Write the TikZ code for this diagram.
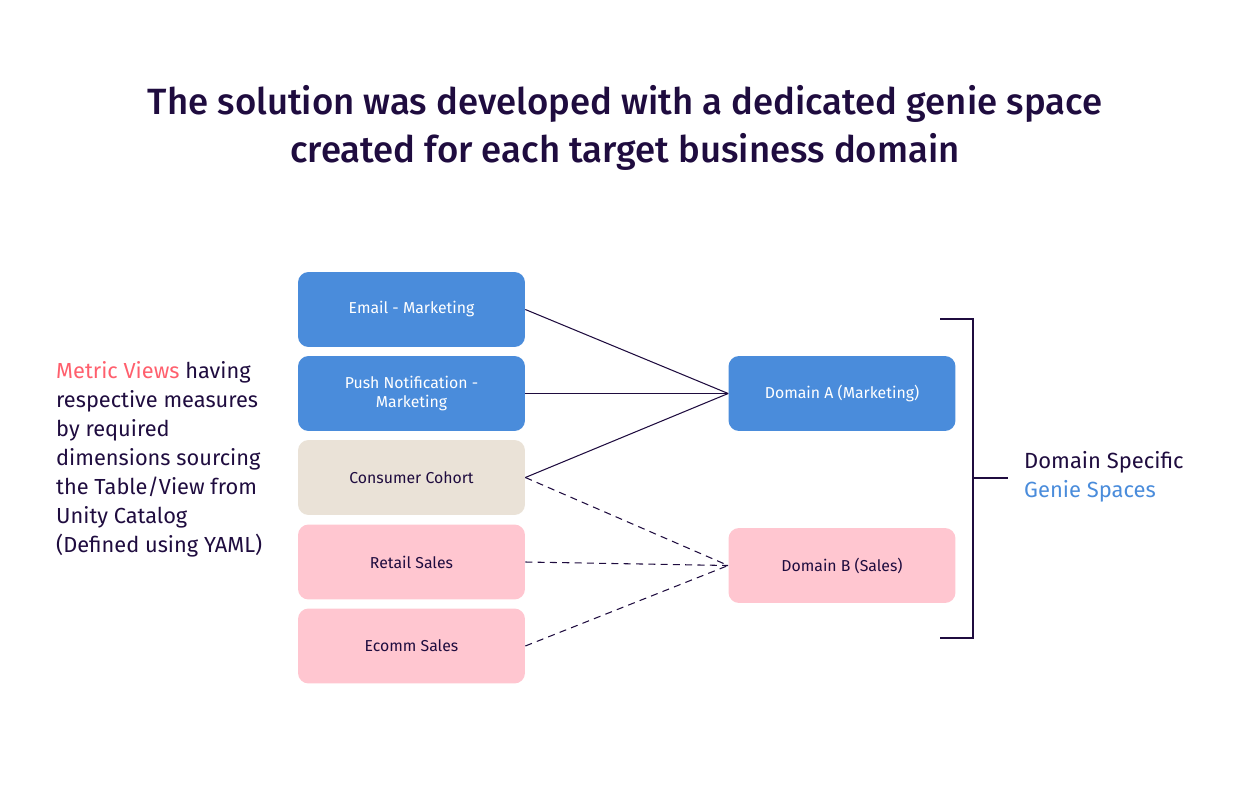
\documentclass[tikz,border=0pt]{standalone}
\usepackage{fontspec}
\setmainfont{Fira Sans}
\newfontfamily\titlefont{Fira Sans Medium}
\usetikzlibrary{positioning}
\definecolor{navy}{HTML}{1F0C3F}
\definecolor{mblue}{HTML}{4A8CDB}
\definecolor{mpink}{HTML}{FFC6D0}
\definecolor{mbeige}{HTML}{EAE2D7}
\definecolor{mred}{HTML}{FF5F6D}
\tikzset{
  box/.style={rounded corners=6pt, minimum width=4.54cm, minimum height=1.5cm,
    align=center, font=\fontsize{9}{11}\selectfont, inner sep=0pt},
  bluebox/.style={box, fill=mblue, text=white},
  pinkbox/.style={box, fill=mpink, text=navy},
  beigebox/.style={box, fill=mbeige, text=navy},
  link/.style={navy, line width=0.6pt},
  dlink/.style={link, dashed, dash pattern=on 4pt off 3pt}
}
\begin{document}
\begin{tikzpicture}[x=0.02cm, y=-0.02cm]
    \useasboundingbox (0,0) rectangle (1250,787);
    % Title
    \node[navy, align=center, font=\titlefont\fontsize{20.8}{27.5}\selectfont] (title) at (625,128)
      {The solution was developed with a dedicated genie space\\created for each target business domain};
    % Source metric views
    \node[bluebox] (email) at (411.5,309.5) {Email - Marketing};
    \node[bluebox] (push) at (411.5,393.5) {Push Notification -\\Marketing};
    \node[beigebox] (cohort) at (411.5,477.5) {Consumer Cohort};
    \node[pinkbox] (retail) at (411.5,562) {Retail Sales};
    \node[pinkbox] (ecomm) at (411.5,646) {Ecomm Sales};
    % Genie spaces
    \node[bluebox] (domA) at (842,393.5) {Domain A (Marketing)};
    \node[pinkbox] (domB) at (842,565.5) {Domain B (Sales)};
    % Connectors
    \draw[link] (email.east) -- (domA.west);
    \draw[link] (push.east) -- (domA.west);
    \draw[link] (cohort.east) -- (domA.west);
    \draw[dlink] (cohort.east) -- (domB.west);
    \draw[dlink] (retail.east) -- (domB.west);
    \draw[dlink] (ecomm.east) -- (domB.west);
    % Bracket
    \coordinate (btop) at (940,319);
    \coordinate (bbot) at (940,638);
    \coordinate (bmid) at (973,478);
    \coordinate (btip) at (1008,478);
    \draw[link, line width=0.8pt] (btop) -| (bmid) |- (bbot);
    \draw[link, line width=0.8pt] (bmid) -- (btip);
    % Labels
    \node[navy, align=left, anchor=west, font=\fontsize{12.5}{16.5}\selectfont] (spaces) at (1018,477)
      {Domain Specific\\\textcolor{mblue}{Genie Spaces}};
    \node[navy, align=left, anchor=west, font=\fontsize{12.4}{16.5}\selectfont] (views) at (50,459)
      {\textcolor{mred}{Metric Views} having\\respective measures\\by required\\dimensions sourcing\\the Table/View from\\Unity Catalog\\(Defined using YAML)};
\end{tikzpicture}
\end{document}
